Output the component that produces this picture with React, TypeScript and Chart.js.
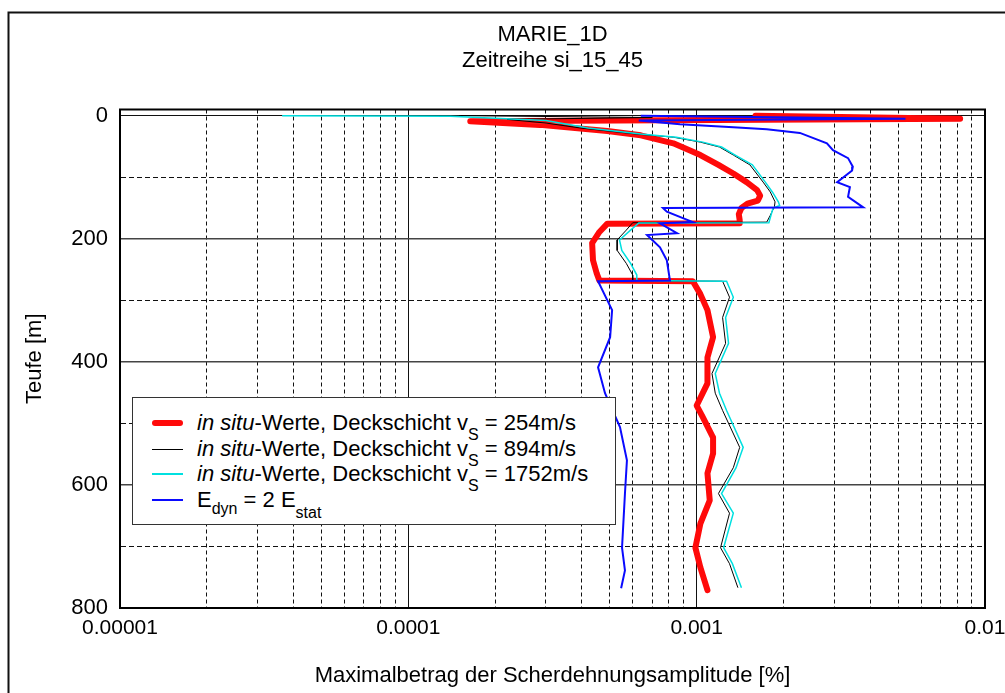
import React, { useEffect, useRef } from 'react';
import { Chart, registerables } from 'chart.js';

Chart.register(...registerables);

// ---------- data (depth in m, strain amplitude in %) ----------
const RED_DEPTH = [0, 5, 9, 15, 25, 32, 45, 64, 80, 94, 108, 121, 130, 138, 143, 150, 160, 170, 175, 175.5, 189, 207, 235, 256, 268, 269, 290, 316, 360, 393, 435, 471, 490, 523, 549, 581, 625, 663, 702, 734, 771];
const RED_STRAIN = [0.0016, 0.0082, 0.000164, 0.000286, 0.00049, 0.00064, 0.00083, 0.00103, 0.00119, 0.00134, 0.00149, 0.00162, 0.00166, 0.00163, 0.0015, 0.00143, 0.0014, 0.00141, 0.00141, 0.00049, 0.00046, 0.000434, 0.000437, 0.00045, 0.00046, 0.00097, 0.00103, 0.00109, 0.00114, 0.00109, 0.00109, 0.001, 0.00105, 0.00114, 0.00114, 0.00109, 0.00111, 0.00103, 0.00099, 0.00103, 0.00109];

const BLACK_DEPTH = [0, 3, 6, 12, 20, 30, 35, 43, 51, 64, 80, 108, 124, 140, 148, 162, 173, 174, 186, 202, 219, 240, 259, 268, 269, 295, 328, 370, 419, 451, 479, 539, 572, 614, 646, 702, 728, 767];
const BLACK_STRAIN = [0.00015, 0.0007, 0.00022, 0.0003, 0.000394, 0.00062, 0.00083, 0.00103, 0.0012, 0.00134, 0.00153, 0.0017, 0.0018, 0.00187, 0.00186, 0.0018, 0.00175, 0.0006, 0.00057, 0.00053, 0.00053, 0.00057, 0.0006, 0.0006, 0.00123, 0.0013, 0.00123, 0.00126, 0.00113, 0.00116, 0.00123, 0.00141, 0.00134, 0.00119, 0.0013, 0.00121, 0.0013, 0.00139];

const CYAN_DEPTH = [0, 1, 8, 20, 30, 35, 43, 51, 64, 80, 108, 124, 140, 146, 150, 162, 174, 174.5, 186, 202, 219, 240, 259, 268, 269, 295, 328, 370, 419, 451, 479, 539, 572, 614, 646, 702, 728, 767];
const CYAN_STRAIN = [0.0000365, 0.00014, 0.0003, 0.00042, 0.00064, 0.00085, 0.00105, 0.00122, 0.00136, 0.00156, 0.00173, 0.00183, 0.00192, 0.00194, 0.00184, 0.00181, 0.00178, 0.00063, 0.00059, 0.00054, 0.00055, 0.00059, 0.00062, 0.00062, 0.00127, 0.00134, 0.00126, 0.00129, 0.00116, 0.0012, 0.00127, 0.00145, 0.00137, 0.00122, 0.00134, 0.00124, 0.00133, 0.00143];

const BLUE_DEPTH = [0, 5, 8, 14, 19, 22, 28, 45, 56, 69, 83, 89, 108, 116, 132, 149, 150, 156, 173, 175, 191, 194, 214, 235, 268, 269, 316, 360, 409, 451, 506, 560, 614, 702, 739, 768];
const BLUE_STRAIN = [0.00064, 0.0053, 0.00063, 0.000875, 0.00134, 0.00175, 0.00228, 0.00283, 0.00297, 0.00335, 0.00348, 0.00346, 0.00307, 0.0034, 0.00335, 0.00378, 0.000764, 0.000788, 0.00097, 0.000746, 0.000855, 0.000673, 0.000746, 0.000788, 0.000808, 0.000455, 0.000509, 0.000501, 0.000455, 0.000481, 0.000542, 0.000573, 0.000564, 0.000551, 0.000564, 0.000547];

const X_DECADES = [0.00001, 0.0001, 0.001, 0.01];
const X_TICK_LABELS = ['0.00001', '0.0001', '0.001', '0.01'];
const Y_TICKS = [0, 100, 200, 300, 400, 500, 600, 700, 800];
const Y_LABELED = [0, 200, 400, 600, 800];

const TITLE_LINES = ['MARIE_1D', 'Zeitreihe si_15_45'];
const X_TITLE = 'Maximalbetrag der Scherdehnungsamplitude [%]';
const Y_TITLE = 'Teufe [m]';

const FONT = 'Liberation Sans, Arial, Helvetica, sans-serif';

function toPoints(xs: number[], ys: number[]) {
  return xs.map((x, i) => ({ x, y: ys[i] }));
}

function isDecade(v: number) {
  return X_DECADES.some((d) => Math.abs(v - d) / d < 1e-6);
}

const framePlugin = {
  id: 'frames',
  beforeDatasetsDraw(chart: any) {
    const { ctx, chartArea } = chart;
    ctx.save();
    ctx.strokeStyle = '#000';
    ctx.lineWidth = 2;
    ctx.strokeRect(chartArea.left, chartArea.top, chartArea.right - chartArea.left, chartArea.bottom - chartArea.top);
    ctx.restore();
  },
  afterDraw(chart: any) {
    const { ctx } = chart;
    ctx.save();
    ctx.strokeStyle = '#111';
    ctx.lineWidth = 2;
    ctx.beginPath();
    ctx.moveTo(8.5, 700);
    ctx.lineTo(8.5, 12.5);
    ctx.lineTo(1010, 12.5);
    ctx.stroke();
    ctx.restore();
  },
};

function ChartView() {
  const ref = useRef<HTMLCanvasElement | null>(null);
  useEffect(() => {
    if (!ref.current) return;
    const chart = new Chart(ref.current, {
      type: 'scatter',
      data: {
        datasets: [
          {
            label: 'red',
            data: toPoints(RED_STRAIN, RED_DEPTH),
            showLine: true,
            borderColor: '#ff0a0a',
            borderWidth: 6,
            borderCapStyle: 'round',
            borderJoinStyle: 'round',
            pointRadius: 0,
            order: 4,
          },
          {
            label: 'black',
            data: toPoints(BLACK_STRAIN, BLACK_DEPTH),
            showLine: true,
            borderColor: '#000',
            borderWidth: 1,
            pointRadius: 0,
            order: 3,
          },
          {
            label: 'cyan',
            data: toPoints(CYAN_STRAIN, CYAN_DEPTH),
            showLine: true,
            borderColor: '#00e0e0',
            borderWidth: 1.5,
            pointRadius: 0,
            order: 2,
          },
          {
            label: 'blue',
            data: toPoints(BLUE_STRAIN, BLUE_DEPTH),
            showLine: true,
            borderColor: '#0a0aff',
            borderWidth: 2,
            pointRadius: 0,
            order: 1,
          },
        ],
      } as any,
      options: {
        animation: false,
        responsive: false,
        maintainAspectRatio: false,
        layout: { padding: { left: 0, right: 0, top: 0, bottom: 0 } },
        plugins: {
          legend: { display: false },
          tooltip: { enabled: false },
          title: {
            display: true,
            fullSize: false,
            text: TITLE_LINES,
            color: '#000',
            font: { family: FONT, size: 22, weight: 'normal', lineHeight: 26 / 22 },
            padding: { top: 22, bottom: 35.5 },
          },
        },
        scales: {
          x: {
            type: 'logarithmic',
            min: 0.00001,
            max: 0.01,
            afterBuildTicks: (scale: any) => {
              const t: { value: number }[] = [];
              for (let d = 0; d < 3; d++) {
                for (let k = 1; k <= 9; k++) t.push({ value: k * X_DECADES[d] });
              }
              t.push({ value: X_DECADES[3] });
              scale.ticks = t;
            },
            afterFit: (scale: any) => {
              scale.height = 85;
              scale.paddingRight = 20;
              scale.paddingLeft = 0;
            },
            ticks: {
              autoSkip: false,
              maxRotation: 0,
              minRotation: 0,
              padding: 8,
              color: '#000',
              font: { family: FONT, size: 21 },
              callback: (v: any) => {
                const idx = X_DECADES.findIndex((d) => Math.abs(Number(v) - d) / d < 1e-6);
                return idx >= 0 ? X_TICK_LABELS[idx] : '';
              },
            },
            grid: {
              drawTicks: false,
              color: '#111',
              lineWidth: 1,
            },
            border: {
              display: true,
              color: '#000',
              width: 2,
              dash: (ctx: any) => (ctx.tick && !isDecade(ctx.tick.value) ? [4, 3] : []),
            },
            title: {
              display: true,
              text: X_TITLE,
              color: '#000',
              font: { family: FONT, size: 22 },
              padding: { top: 0, bottom: 3.8 },
            },
          },
          y: {
            type: 'linear',
            reverse: true,
            min: -10,
            max: 800,
            afterBuildTicks: (scale: any) => {
              scale.ticks = Y_TICKS.map((v) => ({ value: v }));
            },
            afterFit: (scale: any) => {
              scale.width = 120;
            },
            ticks: {
              autoSkip: false,
              padding: 12,
              color: '#000',
              font: { family: FONT, size: 22 },
              callback: (v: any) => (Y_LABELED.includes(Number(v)) ? String(v) : ''),
            },
            grid: {
              drawTicks: false,
              color: (ctx: any) => (ctx.tick && ctx.tick.value % 200 === 0 && ctx.tick.value !== 0 ? '#444' : '#111'),
              lineWidth: (ctx: any) => (ctx.tick && ctx.tick.value % 200 === 0 && ctx.tick.value !== 0 ? 1.5 : 1),
            },
            border: {
              display: true,
              color: '#000',
              width: 2,
              dash: (ctx: any) => (ctx.tick && ctx.tick.value % 200 !== 0 ? [5, 3] : []),
            },
            title: {
              display: true,
              text: Y_TITLE,
              color: '#000',
              font: { family: FONT, size: 22 },
              padding: { top: 21.8, bottom: 0 },
            },
          },
        },
      } as any,
      plugins: [framePlugin],
    });
    return () => chart.destroy();
  }, []);
  return <canvas ref={ref} width={1005} height={693} style={{ display: 'block' }} />;
}

const legendText: React.CSSProperties = {
  position: 'absolute',
  left: 64,
  fontFamily: FONT,
  fontSize: 22,
  lineHeight: '26px',
  color: '#000',
  whiteSpace: 'nowrap',
};

function Sub({ children, dy }: { children: React.ReactNode; dy: number }) {
  return <span style={{ position: 'relative', top: dy, fontSize: 16 }}>{children}</span>;
}

function Legend() {
  const rows = [
    { color: '#ff0a0a', w: 6, vs: '254' },
    { color: '#000', w: 1, vs: '894' },
    { color: '#00e0e0', w: 2, vs: '1752' },
  ];
  const rowY = [26, 52, 77, 103];
  return (
    <div
      style={{
        position: 'absolute',
        left: 132,
        top: 397,
        width: 484,
        height: 128,
        boxSizing: 'border-box',
        border: '1px solid #333',
        background: '#fff',
      }}
    >
      {rows.map((r, i) => (
        <React.Fragment key={i}>
          <div
            style={{
              position: 'absolute',
              left: 19,
              top: rowY[i] - r.w / 2 - 1,
              width: 31,
              height: r.w,
              background: r.color,
              borderRadius: r.w > 2 ? r.w / 2 : 0,
            }}
          />
          <div style={{ ...legendText, top: rowY[i] - 14 }}>
            <i>in situ</i>-Werte, Deckschicht v<Sub dy={10}>S</Sub> = {r.vs}m/s
          </div>
        </React.Fragment>
      ))}
      <div style={{ position: 'absolute', left: 19, top: rowY[3] - 2, width: 31, height: 2, background: '#0a0aff' }} />
      <div style={{ ...legendText, top: rowY[3] - 14 }}>
        E<Sub dy={7}>dyn</Sub> = 2 E<Sub dy={11}>stat</Sub>
      </div>
    </div>
  );
}

export default function App() {
  return (
    <div style={{ position: 'absolute', left: 0, top: 0, width: 1005, height: 693, background: '#fff', overflow: 'hidden' }}>
      <ChartView />
      <Legend />
    </div>
  );
}
